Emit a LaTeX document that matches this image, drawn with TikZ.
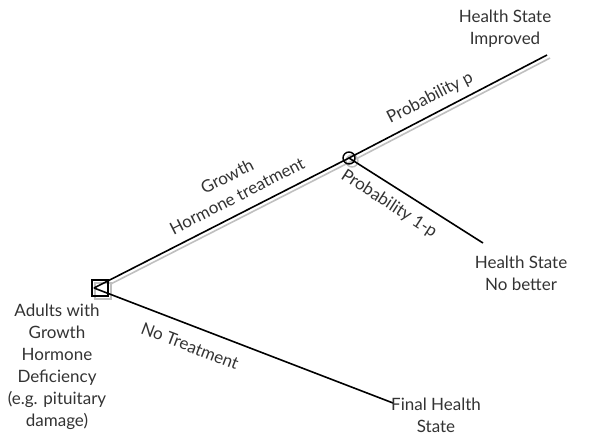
\documentclass[tikz,border=0pt]{standalone}
\usepackage{fontspec}
\setmainfont{Lato}
\begin{document}
\begin{tikzpicture}[x=1pt,y=-1pt,
	label/.style={align=center,text=black!80,font=\fontsize{17}{22}\selectfont,inner sep=1pt},
	branch/.style={line width=1.6pt},
	ghost/.style={line width=1.6pt,black!25}]
	\useasboundingbox (0,0) rectangle (596,434);
	\def\dx{3pt}
	\def\dy{-3pt}
	% branch points and leaves
		\coordinate (root) at (94,288);
		\coordinate (chance) at (349,158);
		\coordinate (better) at (547,55);
		\coordinate (same) at (483,243);
		\coordinate (final) at (393,403);
	% grey shadow of the treated path
		\draw [ghost] ([xshift=\dx,yshift=\dy]root) -- ([xshift=\dx,yshift=\dy]chance) -- ([xshift=\dx,yshift=\dy]better);
		\node [draw=black!25,fill=white,line width=1.4pt,minimum size=16pt,inner sep=0pt] (decshadow) at (103,291) {};
		\node [draw=black!25,line width=1.4pt,circle,minimum size=12pt,inner sep=0pt] (chshadow) at (352,161) {};
	% decision square and chance circle
		\node [draw,line width=1.4pt,minimum size=16pt,inner sep=0pt] (decision) at (100,288) {};
		\node [draw,line width=1.4pt,circle,minimum size=12pt,inner sep=0pt] (chnode) at (chance) {};
	% branches
		\draw [branch] (root) -- (chance) -- (better);
		\draw [branch] (chance) -- (same);
		\draw [branch] (root) -- (final);
	% texts
		\node [label] (start) at (57,367) {Adults with\\Growth\\Hormone\\Deficiency\\(e.g. pituitary\\damage)};
		\node [label] (improved) at (505,29) {Health State\\Improved};
		\node [label] (nobetter) at (521,273) {Health State\\No better};
		\node [label] (finalstate) at (436,415) {Final Health\\State};
		\node [label,rotate=27] (treat) at (232,186) {Growth\\Hormone treatment};
		\node [label,rotate=27] (probp) at (430,98) {Probability p};
		\node [label,rotate=-33] (probq) at (389,204) {Probability 1-p};
		\node [label,rotate=-21] (notreat) at (190,346) {No Treatment};
\end{tikzpicture}
\end{document}
